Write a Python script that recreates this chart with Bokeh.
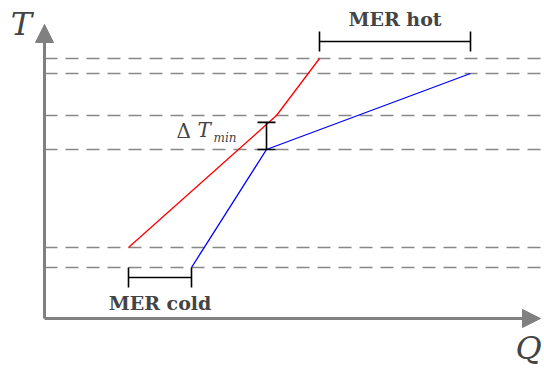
import numpy as np
from bokeh.plotting import figure
from bokeh.models import Range1d, Arrow, NormalHead
from bokeh.core.properties import value
from bokeh.embed import file_html
from bokeh.resources import INLINE

# Composite curves (heat load Q vs. temperature T, arbitrary units)
hot_q = [84, 232, 275]
hot_t = [71, 203, 260]
cold_q = [147, 222, 426]
cold_t = [51, 169, 245]

# Temperature levels marked by dashed guide lines
levels_t = sorted(set(hot_t + cold_t), reverse=True)

# Pinch location (cold curve kink) and minimum approach
pinch_q = cold_q[1]
pinch_cold_t = cold_t[1]
pinch_hot_t = float(np.interp(pinch_q, hot_q, hot_t)) + 2

axis_color = "#808080"
text_color = "#444444"
serif = value("DejaVu Serif")

p = figure(width=544, height=369, output_backend="svg", toolbar_location=None,
           x_range=Range1d(-44, 500), y_range=Range1d(-51, 318),
           min_border=0, outline_line_color=None)
p.axis.visible = False
p.grid.visible = False
p.background_fill_color = "white"
p.border_fill_color = "white"

# Dashed temperature guides
p.segment(x0=[0] * len(levels_t), x1=[500] * len(levels_t), y0=levels_t, y1=levels_t,
          line_color="#888888", line_width=1.3, line_dash="13 8")

# Axes with arrowheads
head = dict(size=18, fill_color=axis_color, line_color=axis_color)
p.add_layout(Arrow(x_start=0, y_start=0, x_end=0, y_end=294,
                   line_color=axis_color, line_width=3, end=NormalHead(**head)))
p.add_layout(Arrow(x_start=0, y_start=0, x_end=496, y_end=0,
                   line_color=axis_color, line_width=3, end=NormalHead(**head)))

# Hot and cold composite curves
p.line(hot_q, hot_t, line_color="red", line_width=1.3)
p.line(cold_q, cold_t, line_color="blue", line_width=1.3)

bracket = dict(line_color="black", line_width=1.6)

# Delta T min bracket at the pinch
cap = 9
p.segment(x0=[pinch_q, pinch_q - cap, pinch_q - cap], x1=[pinch_q, pinch_q + cap, pinch_q + cap],
          y0=[pinch_cold_t, pinch_cold_t, pinch_hot_t], y1=[pinch_hot_t, pinch_cold_t, pinch_hot_t],
          **bracket)

# MER hot bracket: from hot curve top to cold curve top
mer_hot_y = 277
h = 10
p.segment(x0=[hot_q[-1], hot_q[-1], cold_q[-1]], x1=[cold_q[-1], hot_q[-1], cold_q[-1]],
          y0=[mer_hot_y, mer_hot_y - h, mer_hot_y - h], y1=[mer_hot_y, mer_hot_y + h, mer_hot_y + h],
          **bracket)

# MER cold bracket: from hot curve bottom to cold curve bottom
mer_cold_y = 41
p.segment(x0=[hot_q[0], hot_q[0], cold_q[0]], x1=[cold_q[0], hot_q[0], cold_q[0]],
          y0=[mer_cold_y, mer_cold_y - h, mer_cold_y - h], y1=[mer_cold_y, mer_cold_y + h, mer_cold_y + h],
          **bracket)

# Labels
p.text(x=[(hot_q[-1] + cold_q[-1]) / 2], y=[mer_hot_y + 23], text=["MER hot"],
       text_font=serif, text_font_style="bold", text_font_size="19px",
       text_color=text_color, text_align="center", text_baseline="middle")
p.text(x=[(hot_q[0] + cold_q[0]) / 2], y=[mer_cold_y - 25], text=["MER cold"],
       text_font=serif, text_font_style="bold", text_font_size="19px",
       text_color=text_color, text_align="center", text_baseline="middle")

p.text(x=[-23], y=[295], text=["T"], text_font=serif, text_font_style="italic",
       text_font_size="32px", text_color=text_color, text_align="center", text_baseline="middle")
p.text(x=[484], y=[-29], text=["Q"], text_font=serif, text_font_style="italic",
       text_font_size="32px", text_color=text_color, text_align="center", text_baseline="middle")

p.text(x=[132], y=[188], text=["Δ"], text_font=serif,
       text_font_size="20px", text_color=text_color, text_align="left", text_baseline="middle")
p.text(x=[153], y=[189], text=["T"], text_font=serif, text_font_style="italic",
       text_font_size="20px", text_color=text_color, text_align="left", text_baseline="middle")
p.text(x=[169], y=[181], text=["min"], text_font=serif, text_font_style="italic",
       text_font_size="12px", text_color=text_color, text_align="left", text_baseline="middle")

open("out.html", "w").write(file_html(p, INLINE))
